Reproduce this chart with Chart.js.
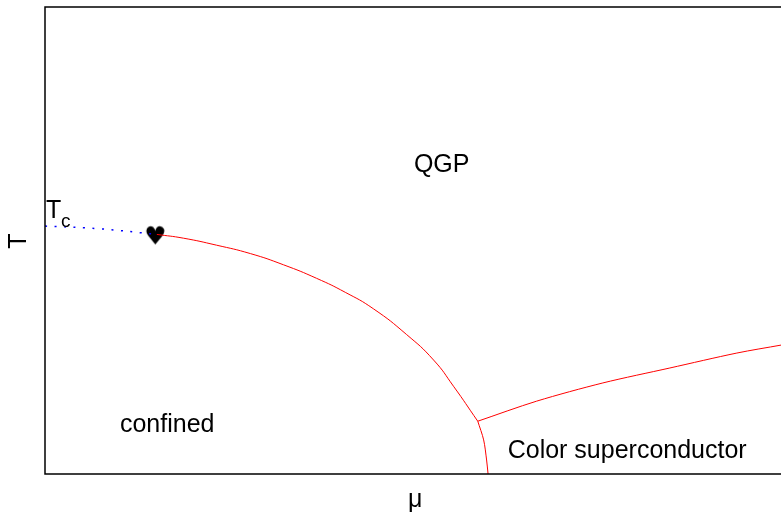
<!DOCTYPE html>
<html>
<head>
<meta charset="utf-8">
<script src="https://cdn.jsdelivr.net/npm/chart.js@4.4.0/dist/chart.umd.min.js"></script>
<style>
  body { margin: 0; background: #fff; }
  canvas { display: block; }
</style>
</head>
<body>
<canvas id="phaseChart" width="781" height="514"></canvas>
<script>
// phase boundary (mu, T) in arbitrary units 0..100
// hadron / QGP line from the critical point down to the triple point
const boundaryMu = [15.2, 18.8, 23.3, 27.9, 32.4, 36.9, 40.8, 44.6, 49.1, 52.8, 55.5, 58.8];
const boundaryT  = [51.3, 50.5, 49.0, 47.2, 44.8, 41.9, 38.9, 35.4, 29.9, 24.4, 18.8, 11.3];

// hadron / color superconductor line
const lowerMu = [58.8, 59.6, 60.0, 60.2];
const lowerT  = [11.3, 7.3, 3.0, 0];

// QGP / color superconductor line
const cscMu = [58.8, 66.8, 75.8, 84.9, 94.0, 100];
const cscT  = [11.3, 15.6, 19.5, 22.7, 25.9, 27.6];

// crossover from T_c to the critical point
const crossoverMu = [0, 7.5, 15.2];
const crossoverT  = [53.1, 52.5, 51.3];

const criticalPoint = { x: 15.2, y: 51.3 };

const regionLabels = [
    { text: 'QGP', x: 53.9, y: 64.7 },
    { text: 'confined', x: 16.6, y: 9.0 },
    { text: 'Color superconductor', x: 79.1, y: 3.4 }
];

const toPoints = (xs, ys) => xs.map((x, i) => ({ x: x, y: ys[i] }));

const FONT = "'Liberation Sans', Arial, sans-serif";

// heart marker for the critical point
const heart = document.createElement('canvas');
heart.width = 26;
heart.height = 26;
const hctx = heart.getContext('2d');
hctx.fillStyle = '#000';
hctx.font = "25px 'DejaVu Sans'";
hctx.textAlign = 'center';
hctx.textBaseline = 'middle';
hctx.fillText('\u2665', 11.5, 16);

const redLine = (xs, ys, tension) => ({
    data: toPoints(xs, ys),
    showLine: true,
    borderColor: '#ff0000',
    borderWidth: 1,
    tension: tension,
    pointRadius: 0
});

const decorPlugin = {
    id: 'decor',
    afterDatasetsDraw(chart) {
        const { ctx, chartArea, scales } = chart;
        ctx.save();
        // frame: left, top, bottom (right edge is outside the canvas)
        ctx.strokeStyle = '#000';
        ctx.lineWidth = 1.5;
        ctx.beginPath();
        ctx.moveTo(chartArea.right + 5, chartArea.top);
        ctx.lineTo(chartArea.left, chartArea.top);
        ctx.lineTo(chartArea.left, chartArea.bottom);
        ctx.lineTo(chartArea.right + 5, chartArea.bottom);
        ctx.stroke();

        ctx.fillStyle = '#000';
        ctx.font = '25px ' + FONT;
        ctx.textAlign = 'center';
        ctx.textBaseline = 'alphabetic';
        regionLabels.forEach(l => {
            ctx.fillText(l.text, scales.x.getPixelForValue(l.x), scales.y.getPixelForValue(l.y));
        });

        // T_c label
        ctx.textAlign = 'left';
        ctx.fillText('T', chartArea.left + 1, 218);
        ctx.font = '19px ' + FONT;
        ctx.fillText('c', chartArea.left + 16, 227);

        // axis titles
        ctx.font = '25px ' + FONT;
        ctx.textAlign = 'center';
        ctx.textBaseline = 'middle';
        ctx.fillText('\u03bc', scales.x.getPixelForValue(50.3), 500);
        ctx.translate(19, 241);
        ctx.rotate(-Math.PI / 2);
        ctx.fillText('T', 0, 0);
        ctx.restore();
    }
};

new Chart(document.getElementById('phaseChart'), {
    type: 'scatter',
    data: {
        datasets: [
            redLine(boundaryMu, boundaryT, 0.5),
            redLine(lowerMu, lowerT, 0.3),
            redLine(cscMu, cscT, 0.3),
            {
                data: toPoints(crossoverMu, crossoverT),
                showLine: true,
                borderColor: '#0000ff',
                borderWidth: 1.5,
                borderDash: [2, 7.5],
                tension: 0.4,
                pointRadius: 0
            },
            {
                data: [criticalPoint],
                pointStyle: heart,
                pointRadius: 13
            }
        ]
    },
    options: {
        responsive: false,
        animation: false,
        layout: { autoPadding: false, padding: { left: 45, top: 7, right: 0, bottom: 40 } },
        plugins: { legend: { display: false }, tooltip: { enabled: false } },
        scales: {
            x: { type: 'linear', min: 0, max: 100, display: false },
            y: { type: 'linear', min: 0, max: 100, display: false }
        }
    },
    plugins: [decorPlugin]
});
</script>
</body>
</html>
